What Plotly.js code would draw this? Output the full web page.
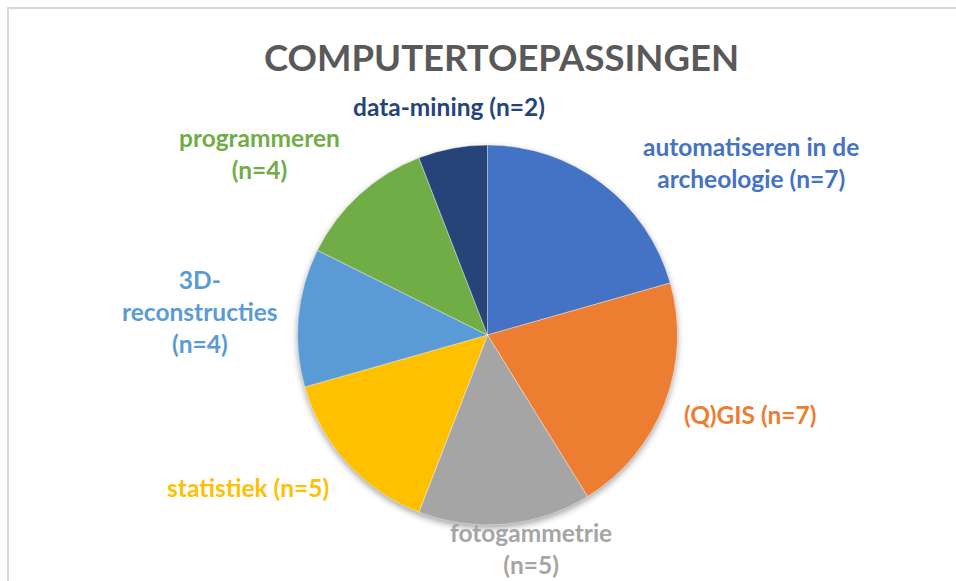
<!DOCTYPE html>
<html>
<head>
<meta charset="utf-8">
<script src="https://cdn.plot.ly/plotly-3.0.1.min.js"></script>
<style>
  html, body { margin: 0; padding: 0; background: #ffffff; overflow: hidden; }
  #chart { position: absolute; left: 0; top: 0; width: 956px; height: 581px; }
  #frame { position: absolute; left: 7px; top: 7px; width: 1000px; height: 1000px;
           border: 2px solid #d9d9d9; box-sizing: border-box; pointer-events: none; }
  .pielayer .trace { filter: drop-shadow(0px 3px 3px rgba(0,0,0,0.35)); }
</style>
</head>
<body>
<div id="chart"></div>
<div id="frame"></div>
<script>
// Data
const categories = ["automatiseren in de archeologie", "(Q)GIS", "fotogammetrie", "statistiek", "3D-reconstructies", "programmeren", "data-mining"];
const values = [7, 7, 5, 5, 4, 4, 2];
// label line layout (how each label wraps)
const labelLines = [
  ["automatiseren in de", "archeologie (n={v})"],
  ["(Q)GIS (n={v})"],
  ["fotogammetrie", "(n={v})"],
  ["statistiek (n={v})"],
  ["3D-", "reconstructies", "(n={v})"],
  ["programmeren", "(n={v})"],
  ["data-mining (n={v})"]
];
// Styles
const colors = ["#4472C4", "#ED7D31", "#A5A5A5", "#FFC000", "#5B9BD5", "#70AD47", "#264478"];
const labelPos = [
  [751, 162], [750, 414], [531, 548], [248, 487], [200, 311], [259, 153], [449, 106]
];

const W = 956, H = 581;
const cx = 487.5, cy = 335, r = 190;

const trace = {
  type: "pie",
  labels: categories,
  values: values,
  sort: false,
  direction: "clockwise",
  rotation: 0,
  textinfo: "none",
  hoverinfo: "label+value",
  marker: { colors: colors, line: { color: "#ffffff", width: 0.4 } },
  domain: { x: [(cx - r) / W, (cx + r) / W], y: [1 - (cy + r) / H, 1 - (cy - r) / H] },
  showlegend: false
};

const annotations = categories.map((c, i) => ({
  xref: "paper", yref: "paper",
  x: labelPos[i][0] / W, y: 1 - labelPos[i][1] / H,
  xanchor: "center", yanchor: "middle",
  align: "center",
  showarrow: false,
  text: labelLines[i].map(s => s.replace("{v}", values[i])).join("<br>"),
  font: { family: "Lato, 'Open Sans', sans-serif", size: 24.5, color: colors[i], weight: "bold" }
}));

const layout = {
  width: W, height: H,
  margin: { l: 0, r: 0, t: 0, b: 0 },
  paper_bgcolor: "#ffffff",
  title: {
    text: "<b>COMPUTERTOEPASSINGEN</b>",
    x: 501.5 / W, xanchor: "center", xref: "paper",
    y: 1 - 58 / H, yanchor: "middle", yref: "paper",
    font: { family: "Lato, 'Open Sans', sans-serif", size: 36.5, color: "#595959" }
  },
  annotations: annotations
};

Plotly.newPlot("chart", [trace], layout, { displayModeBar: false, staticPlot: true });
</script>
</body>
</html>
